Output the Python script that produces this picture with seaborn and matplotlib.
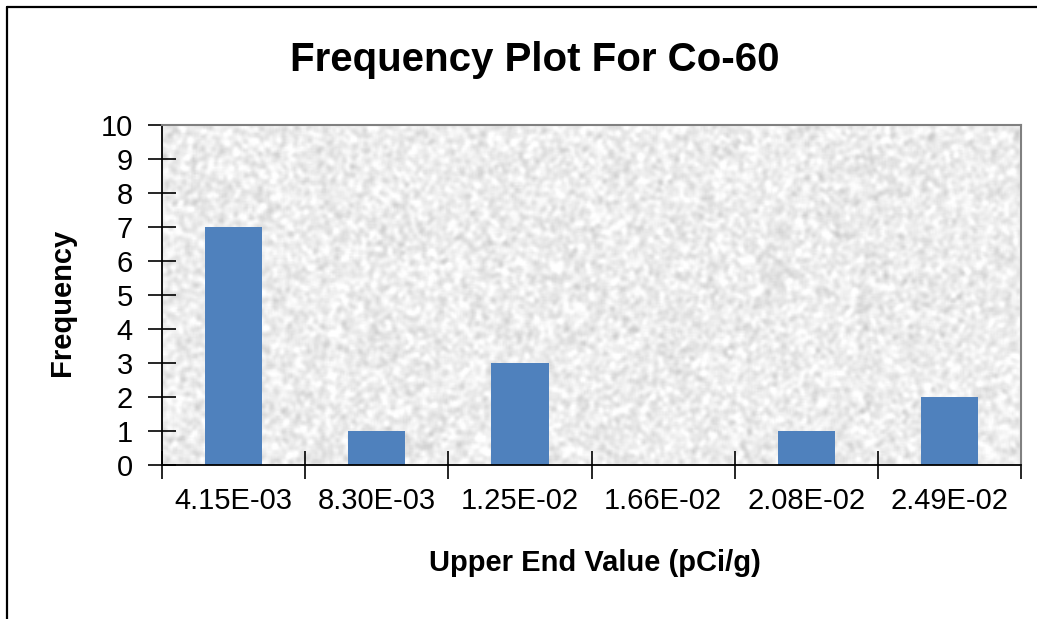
import numpy as np
import pandas as pd
import matplotlib
matplotlib.use("Agg")
import matplotlib.pyplot as plt
from matplotlib.lines import Line2D
import seaborn as sns

# Histogram bins (upper end values) and their counts
bin_labels = ["4.15E-03", "8.30E-03", "1.25E-02", "1.66E-02", "2.08E-02", "2.49E-02"]
frequencies = [7, 1, 3, 0, 1, 2]
y_ticks = list(range(0, 11))

title = "Frequency Plot For Co-60"
x_title = "Upper End Value (pCi/g)"
y_title = "Frequency"

sns.set_theme(style="white")
plt.rcParams["font.family"] = ["Liberation Sans", "DejaVu Sans"]
plt.rcParams["text.color"] = "black"

W, H = 1037, 619
fig = plt.figure(figsize=(W / 100, H / 100), dpi=100)
fig.patch.set_facecolor("white")

left, right, top, bottom = 162, 1021, 125, 465
ax = fig.add_axes([left / W, 1 - bottom / H, (right - left) / W, (bottom - top) / H])

df = pd.DataFrame({"bin": bin_labels, "freq": frequencies})

# Light granite-like textured plot background
rng = np.random.default_rng(11)
noise = rng.normal(size=(220, 560))
k = np.ones(3) / 3
for _ in range(2):
    noise = np.apply_along_axis(lambda r: np.convolve(r, k, mode="same"), 1, noise)
    noise = np.apply_along_axis(lambda c: np.convolve(c, k, mode="same"), 0, noise)
noise = (noise - noise.mean()) / noise.std()
tex = np.clip(0.93 + 0.035 * noise, 0.80, 1.0)
ax.imshow(tex, cmap="gray", vmin=0, vmax=1, extent=(-0.5, 5.5, 0, 10),
          aspect="auto", zorder=0, interpolation="bilinear")

sns.barplot(data=df, x="bin", y="freq", color="#4F81BD", saturation=1,
            width=0.4, ax=ax, zorder=2, edgecolor="none")

ax.set_xlim(-0.5, 5.5)
ax.set_ylim(0, 10)
ax.set_xlabel("")
ax.set_ylabel("")

# Y axis ticks crossing the axis line
ax.set_yticks(y_ticks)
ax.set_yticklabels([str(t) for t in y_ticks], fontsize=21, color="black")
ax.tick_params(axis="y", direction="inout", length=20, width=1.2, color="black", pad=11, left=True)

# X axis: ticks at bin boundaries, labels centred on bars
ax.set_xticks(np.arange(-0.5, 6.0, 1.0))
ax.set_xticklabels([])
ax.set_xticks(np.arange(len(bin_labels)), minor=True)
ax.set_xticklabels(bin_labels, minor=True, fontsize=21, color="black")
ax.tick_params(axis="x", which="major", direction="inout", length=20, width=1.2, color="black", bottom=True)
ax.tick_params(axis="x", which="minor", length=0, pad=16)

for side in ["left", "bottom"]:
    ax.spines[side].set_color("black")
    ax.spines[side].set_linewidth(1.3)
for side in ["top", "right"]:
    ax.spines[side].set_visible(True)
    ax.spines[side].set_color("#808080")
    ax.spines[side].set_linewidth(1.5)

fig.text(535 / W, 1 - 60 / H, title, fontsize=29, fontweight="bold",
         ha="center", va="center", color="black")
fig.text(595 / W, 1 - 563 / H, x_title, fontsize=21, fontweight="bold",
         ha="center", va="center", color="black")
fig.text(62 / W, 1 - 302 / H, y_title, fontsize=21, fontweight="bold",
         ha="center", va="center", rotation=90, color="black")

# Outer chart frame (left and top edges)
fig.add_artist(Line2D([7 / W, 7 / W], [0, 1 - 7 / H], transform=fig.transFigure,
                      color="black", linewidth=1.6))
fig.add_artist(Line2D([7 / W, 1], [1 - 7 / H, 1 - 7 / H], transform=fig.transFigure,
                      color="black", linewidth=1.6))

fig.savefig("out.png", dpi=100, facecolor="white")
